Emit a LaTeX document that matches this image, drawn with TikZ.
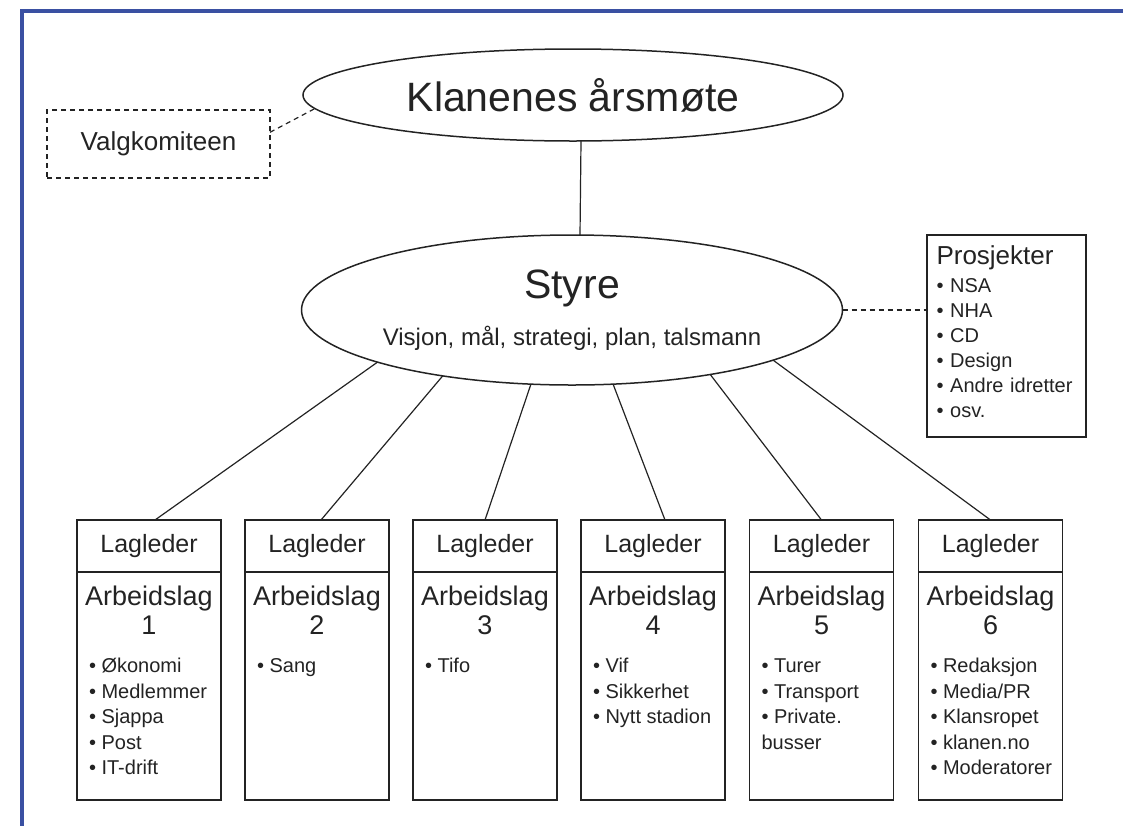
\documentclass[tikz,border=0pt]{standalone}
\usepackage{fontspec}
\setmainfont{Liberation Sans}
\usepackage{tikz}
\usetikzlibrary{positioning,shapes.geometric}

\definecolor{ramme}{RGB}{58,80,162}
\definecolor{ink}{RGB}{35,35,35}

% innhold i et arbeidslag: nummer + punktliste
\newcommand{\laginnhold}[2]{\parbox[t][108pt][t]{66pt}{\vspace*{4pt}\centering
  \fontsize{13.5}{14.5}\selectfont Arbeidslag\\#1\par\vspace{6.25pt}%
  \raggedright\leftskip=3pt\fontsize{10}{12.75}\selectfont #2}}

\begin{document}
\begin{tikzpicture}[x=0.5pt,y=-0.5pt,every node/.style={draw=ink,text=ink,line width=0.6pt,outer sep=0pt},
	oval/.style={ellipse,inner sep=0pt,line width=0.75pt},
	leder/.style={rectangle,minimum width=72pt,minimum height=26pt,inner sep=0pt,font=\fontsize{12.5}{15}\selectfont},
	lagboks/.style={rectangle,inner sep=3pt},
	strek/.style={draw=ink,line width=0.6pt},
	stiplet/.style={dash pattern=on 2.5pt off 2pt}]
			\useasboundingbox (0,0) rectangle (1123,825);
			\draw[ramme,line width=2.2pt] (22,11) rectangle (1160,860);

			\node[oval,minimum width=270pt,minimum height=46pt,font=\fontsize{20.5}{24}\selectfont] (aarsmote) at (573,95) {Klanenes årsmøte};
			\node[oval,minimum width=270.5pt,minimum height=75pt,align=center,font=\fontsize{12}{14}\selectfont] (styre) at (572,310) {{\fontsize{20.5}{24}\selectfont Styre}\\[9.5pt]Visjon, mål, strategi, plan, talsmann};
			\node[rectangle,stiplet,minimum width=111.5pt,minimum height=34pt,font=\fontsize{13}{15}\selectfont] (valg) at (158.5,144) {Valgkomiteen};
			\node[rectangle,minimum width=79.5pt,minimum height=101pt,text width=70pt,inner sep=4.75pt,align=left,font=\fontsize{10}{12.5}\selectfont] (prosj) at (1006.5,336) {{\fontsize{13}{15}\selectfont Prosjekter\par}\vspace{1.5pt}•~NSA\\•~NHA\\•~CD\\•~Design\\•~Andre idretter\\•~osv.\par\vspace{4pt}};

			\node[leder] (l1) at (149,546) {Lagleder};
			\node[leder] (l2) at (317,546) {Lagleder};
			\node[leder] (l3) at (485,546) {Lagleder};
			\node[leder] (l4) at (653,546) {Lagleder};
			\node[leder] (l5) at (821.5,546) {Lagleder};
			\node[leder] (l6) at (990.5,546) {Lagleder};

			\node[lagboks,below=0pt of l1] (a1) {\laginnhold{1}{•~Økonomi\\•~Medlemmer\\•~Sjappa\\•~Post\\•~IT-drift}};
			\node[lagboks,below=0pt of l2] (a2) {\laginnhold{2}{•~Sang}};
			\node[lagboks,below=0pt of l3] (a3) {\laginnhold{3}{•~Tifo}};
			\node[lagboks,below=0pt of l4] (a4) {\laginnhold{4}{•~Vif\\•~Sikkerhet\\•~Nytt stadion}};
			\node[lagboks,below=0pt of l5] (a5) {\laginnhold{5}{•~Turer\\•~Transport\\•~Private.\\busser}};
			\node[lagboks,below=0pt of l6] (a6) {\laginnhold{6}{•~Redaksjon\\•~Media/PR\\•~Klansropet\\•~klanen.no\\•~Moderatorer}};

			\draw[strek] ([xshift=4pt]aarsmote.south) -- ([xshift=4pt]styre.north);
			\draw[strek,stiplet] (valg.6) -- (aarsmote.183);
			\draw[strek,stiplet] (styre.east) -- (styre.east -| prosj.west);

			\draw[strek] (styre.195) -- ([xshift=3pt]l1.north);
			\draw[strek] (styre.207) -- ([xshift=2pt]l2.north);
			\draw[strek] (styre.241) -- (l3.north);
			\draw[strek] (styre.299) -- ([xshift=6pt]l4.north);
			\draw[strek] (styre.335) -- (l5.north);
			\draw[strek] (styre.346) -- (l6.north);
		\end{tikzpicture}
\end{document}
